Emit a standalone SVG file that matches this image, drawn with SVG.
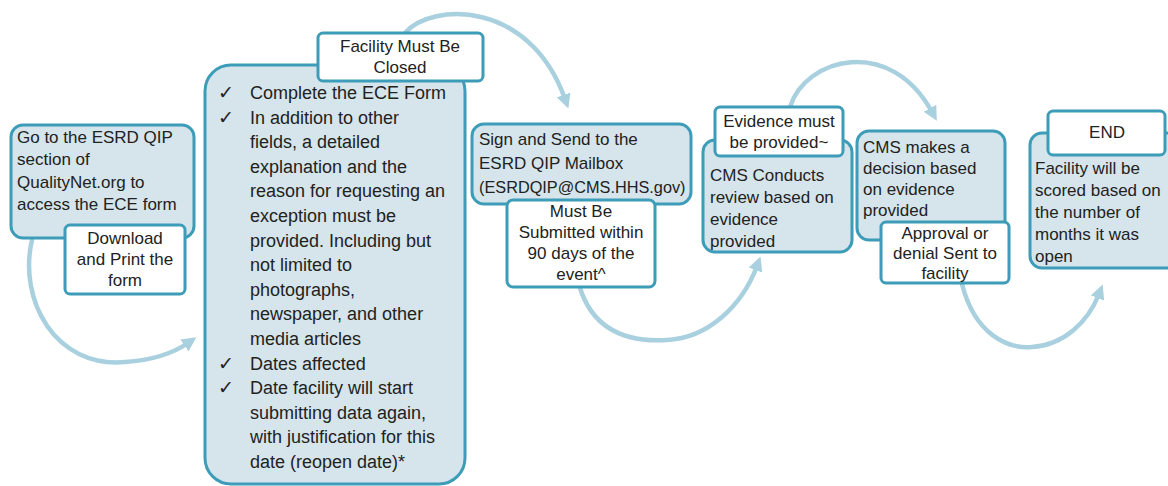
<svg xmlns="http://www.w3.org/2000/svg" width="1168" height="486" viewBox="0 0 1168 486">
<defs>
<style>
.main{fill:#d5e5eb;stroke:#3d9cb8;stroke-width:3}
.sub{fill:#ffffff;stroke:#3d9cb8;stroke-width:3}
.t{font-family:"Liberation Sans",Arial,sans-serif;font-size:17px;fill:#222}
.t2{font-family:"Liberation Sans",Arial,sans-serif;font-size:18px;fill:#222}
.c{text-anchor:middle}
.ck{font-family:"DejaVu Sans",sans-serif;font-size:19px;fill:#222}
.arc{fill:none;stroke:#a9d0df;stroke-width:4.5;stroke-linecap:round}
</style>
<marker id="ah" viewBox="0 0 10 10" refX="3" refY="5" markerWidth="3.2" markerHeight="3.2" orient="auto" markerUnits="strokeWidth">
<path d="M0,0 L10,5 L0,10 z" fill="#a9d0df"/>
</marker>
</defs>
<rect width="1168" height="486" fill="#ffffff"/>
<g id="connectors">
<path class="arc" marker-end="url(#ah)" d="M32 240 C18 300, 55 368, 125 362 C155 360, 175 352, 188 343"/>
<path class="arc" marker-end="url(#ah)" d="M405 33 C432 2, 530 0, 565 99"/>
<path class="arc" marker-end="url(#ah)" d="M580 288 C595 335, 635 342, 667 340 C708 338, 742 306, 757 266"/>
<path class="arc" marker-end="url(#ah)" d="M790 107 C805 58, 890 35, 932 112"/>
<path class="arc" marker-end="url(#ah)" d="M962 284 C975 335, 1008 349, 1032 347 C1064 345, 1088 322, 1099 294"/>
</g>
<g id="node1">
<rect class="main" x="11" y="125" width="183" height="113" rx="12"/>
<text class="t" x="17" y="143">Go to the ESRD QIP</text>
<text class="t" x="17" y="165">section of</text>
<text class="t" x="17" y="188">QualityNet.org to</text>
<text class="t" x="17" y="210">access the ECE form</text>
<rect class="sub" x="65" y="225" width="120" height="69" rx="5"/>
<text class="t c" x="125" y="244">Download</text>
<text class="t c" x="125" y="265">and Print the</text>
<text class="t c" x="125" y="286">form</text>
</g>
<g id="node2">
<rect class="main" x="205" y="65" width="260" height="419" rx="26"/>
<rect class="sub" x="318" y="33" width="165" height="48" rx="5"/>
<text class="t c" x="400" y="52">Facility Must Be</text>
<text class="t c" x="400" y="73">Closed</text>
<text class="ck" x="218" y="99">✓</text>
<text class="ck" x="218" y="124">✓</text>
<text class="ck" x="218" y="370">✓</text>
<text class="ck" x="218" y="394">✓</text>
<text class="t2" x="250" y="99">Complete the ECE Form</text>
<text class="t2" x="250" y="124">In addition to other</text>
<text class="t2" x="250" y="148">fields, a detailed</text>
<text class="t2" x="250" y="173">explanation and the</text>
<text class="t2" x="250" y="197">reason for requesting an</text>
<text class="t2" x="250" y="222">exception must be</text>
<text class="t2" x="250" y="247">provided. Including but</text>
<text class="t2" x="250" y="271">not limited to</text>
<text class="t2" x="250" y="296">photographs,</text>
<text class="t2" x="250" y="320">newspaper, and other</text>
<text class="t2" x="250" y="345">media articles</text>
<text class="t2" x="250" y="370">Dates affected</text>
<text class="t2" x="250" y="394">Date facility will start</text>
<text class="t2" x="250" y="419">submitting data again,</text>
<text class="t2" x="250" y="443">with justification for this</text>
<text class="t2" x="250" y="468">date (reopen date)*</text>
</g>
<g id="node3">
<rect class="main" x="472" y="124" width="219" height="80" rx="12"/>
<text class="t" x="479" y="145">Sign and Send to the</text>
<text class="t" x="479" y="169">ESRD QIP Mailbox</text>
<text class="t" x="479" y="193" style="font-size:16.3px">(ESRDQIP@CMS.HHS.gov)</text>
<rect class="sub" x="507" y="200" width="148" height="87" rx="6"/>
<text class="t c" x="581" y="217">Must Be</text>
<text class="t c" x="581" y="238">Submitted within</text>
<text class="t c" x="581" y="259">90 days of the</text>
<text class="t c" x="581" y="280">event^</text>
</g>
<g id="node4">
<rect class="main" x="703" y="140" width="149" height="112" rx="12"/>
<text class="t" x="710" y="181">CMS Conducts</text>
<text class="t" x="710" y="203">review based on</text>
<text class="t" x="710" y="225">evidence</text>
<text class="t" x="710" y="247">provided</text>
<rect class="sub" x="715" y="107" width="128" height="49" rx="5"/>
<text class="t c" x="779" y="127">Evidence must</text>
<text class="t c" x="779" y="148">be provided~</text>
</g>
<g id="node5">
<rect class="main" x="857" y="131" width="148" height="109" rx="12"/>
<text class="t" x="863" y="153">CMS makes a</text>
<text class="t" x="863" y="174">decision based</text>
<text class="t" x="863" y="195">on evidence</text>
<text class="t" x="863" y="216">provided</text>
<rect class="sub" x="881" y="222" width="128" height="61" rx="5"/>
<text class="t c" x="945" y="239">Approval or</text>
<text class="t c" x="945" y="259">denial Sent to</text>
<text class="t c" x="945" y="279">facility</text>
</g>
<g id="node6">
<rect class="main" x="1030" y="133" width="150" height="135" rx="12"/>
<text class="t" x="1035" y="174">Facility will be</text>
<text class="t" x="1035" y="196">scored based on</text>
<text class="t" x="1035" y="218">the number of</text>
<text class="t" x="1035" y="240">months it was</text>
<text class="t" x="1035" y="262">open</text>
<rect class="sub" x="1048" y="111" width="117" height="44" rx="5"/>
<text class="t c" x="1107" y="138">END</text>
</g>
</svg>
